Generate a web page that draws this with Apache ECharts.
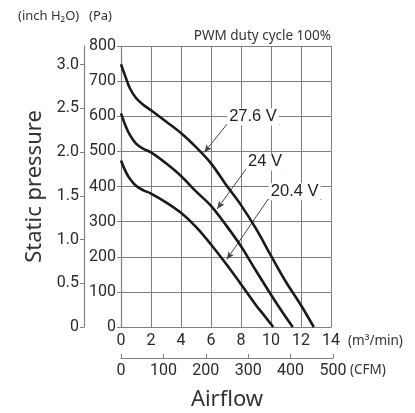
<!DOCTYPE html>
<html><head><meta charset="utf-8">
<script src="https://cdn.jsdelivr.net/npm/echarts@6/dist/echarts.min.js"></script>
<style>html,body{margin:0;padding:0;background:#fff}#c{width:415px;height:413px}</style>
</head><body><div id="c"></div>
<script>
// Airflow (m3/min) and static pressure (Pa) for each voltage
const x276 = [0, 0.3, 0.6, 1.0, 1.5, 2.0, 3.0, 4.0, 5.0, 6.0, 7.0, 8.0, 9.0, 10.0, 11.0, 12.0, 12.85];
const p276 = [748, 712, 679, 652, 632, 617, 585, 552, 512, 466, 405, 347, 280, 203, 128, 62, 0];
const x24  = [0, 0.3, 0.6, 1.0, 1.5, 2.0, 3.0, 4.0, 5.0, 6.0, 7.0, 8.0, 9.0, 10.0, 10.8, 11.45];
const p24  = [608, 573, 546, 522, 507, 497, 466, 430, 386, 345, 290, 230, 160, 92, 40, 0];
const x204 = [0, 0.25, 0.5, 1.0, 1.5, 2.0, 3.0, 4.0, 5.0, 6.0, 7.0, 8.0, 9.0, 9.6, 10.15];
const p204 = [474, 448, 428, 402, 389, 380, 355, 325, 285, 235, 180, 122, 62, 30, 0];
const seriesNames = ['27.6 V', '24 V', '20.4 V'];
// annotation anchors: [label x, label y], underline y, underline x range, arrow tip
const labelPos  = [[8.8, 598], [9.6, 470], [11.58, 385]];
const underY    = [578, 450, 364];
const underX    = [[7.08, 10.55], [8.34, 10.88], [9.81, 13.35]];
const arrowTip  = [[5.55, 497], [6.41, 336], [7.05, 192]];
const paTicks = {min: 0, max: 800, interval: 100};
const inchMax = 800 / 249.089;
const flowTicks = {min: 0, max: 14, interval: 2};
const cfmTicks = {min: 0, max: 500, interval: 100};

const zip = (xs, ys) => xs.map((v, i) => [v, ys[i]]);
const dataSets = [zip(x276, p276), zip(x24, p24), zip(x204, p204)];
const numFont = 'Roboto, sans-serif';
const txtFont = 'Noto Sans';
const gray = '#808080';

const series = dataSets.map((d, i) => ({
  name: seriesNames[i], type: 'line', xAxisIndex: 0, yAxisIndex: 0,
  data: d, smooth: 0.35, symbol: 'none',
  lineStyle: {color: '#1a1a1a', width: 2.6},
  z: 5,
  markLine: {
    silent: true, symbol: ['none', 'none'], animation: false,
    label: {show: false},
    lineStyle: {type: 'solid', color: '#444', width: 1},
    data: [
      [{coord: [underX[i][0], underY[i]]}, {coord: [underX[i][1], underY[i]]}],
      [{coord: [underX[i][0], underY[i]]}, {coord: arrowTip[i], symbol: 'arrow', symbolSize: [5, 8]}]
    ]
  },
  markPoint: {
    silent: true, animation: false, symbol: 'rect', symbolSize: 1,
    itemStyle: {color: 'rgba(0,0,0,0)'},
    label: {show: true, position: 'inside', formatter: seriesNames[i],
      color: '#222', fontFamily: 'Liberation Sans', fontSize: 16.5,
      backgroundColor: '#fff', padding: [0, 2]},
    data: [{coord: labelPos[i]}]
  }
}));
// hidden series to bind CFM grid
series.push({type: 'line', xAxisIndex: 1, yAxisIndex: 2, data: [], silent: true});

const chart = echarts.init(document.getElementById('c'), null, {renderer: 'canvas'});
chart.setOption({
  animation: false,
  backgroundColor: '#fff',
  grid: [
    {left: 121, top: 46, width: 210, height: 281, containLabel: false, outerBoundsMode: 'none'},
    {left: 121, top: 340, width: 212, height: 18, containLabel: false, outerBoundsMode: 'none'}
  ],
  xAxis: [
    {type: 'value', gridIndex: 0, ...flowTicks,
      axisLine: {show: true, onZero: false, lineStyle: {color: gray, width: 1.2}},
      axisTick: {show: false},
      splitLine: {show: true, lineStyle: {color: gray, width: 1}},
      axisLabel: {color: '#2a2a2a', fontFamily: numFont, fontSize: 16, margin: 6}},
    {type: 'value', gridIndex: 1, ...cfmTicks, position: 'bottom',
      axisLine: {show: true, onZero: false, lineStyle: {color: gray, width: 1.2}},
      axisTick: {show: true, inside: true, length: 4, lineStyle: {color: gray}},
      splitLine: {show: false},
      axisLabel: {color: '#2a2a2a', fontFamily: numFont, fontSize: 16, margin: 5},
      name: 'Airflow', nameLocation: 'middle', nameGap: 31,
      nameTextStyle: {color: '#333', fontFamily: txtFont, fontSize: 22}}
  ],
  yAxis: [
    {type: 'value', gridIndex: 0, ...paTicks,
      axisLine: {show: true, onZero: false, lineStyle: {color: gray, width: 1.2}},
      axisTick: {show: true, length: 4, lineStyle: {color: gray}},
      splitLine: {show: true, lineStyle: {color: gray, width: 1}},
      axisLabel: {color: '#2a2a2a', fontFamily: numFont, fontSize: 16, margin: 5}},
    {type: 'value', gridIndex: 0, min: 0, max: inchMax, interval: 0.5,
      position: 'left', offset: 37,
      axisLine: {show: true, onZero: false, lineStyle: {color: gray, width: 1.2}},
      axisTick: {show: true, length: 4, lineStyle: {color: gray}},
      splitLine: {show: false},
      axisLabel: {color: '#2a2a2a', fontFamily: numFont, fontSize: 16, margin: 5,
        showMaxLabel: false,
        formatter: v => v === 0 ? '0' : v.toFixed(1)},
      name: 'Static pressure', nameLocation: 'middle', nameGap: 31, nameRotate: 90,
      nameTextStyle: {color: '#333', fontFamily: txtFont, fontSize: 22}},
    {type: 'value', gridIndex: 1, show: false, min: 0, max: 1}
  ],
  graphic: [
    {type: 'text', left: 18, top: 10, style: {text: '(inch H₂O)', fontFamily: txtFont, fontSize: 13, fill: '#333'}},
    {type: 'text', left: 89, top: 10, style: {text: '(Pa)', fontFamily: txtFont, fontSize: 13, fill: '#333'}},
    {type: 'text', right: 84, top: 29, style: {text: 'PWM duty cycle 100%', fontFamily: txtFont, fontSize: 13.5, fill: '#333'}},
    {type: 'text', left: 348, top: 334, style: {text: '(m³/min)', fontFamily: txtFont, fontSize: 13.5, fill: '#333'}},
    {type: 'text', left: 350, top: 363, style: {text: '(CFM)', fontFamily: txtFont, fontSize: 13.5, fill: '#333'}}
  ],
  series: series
});
</script></body></html>
